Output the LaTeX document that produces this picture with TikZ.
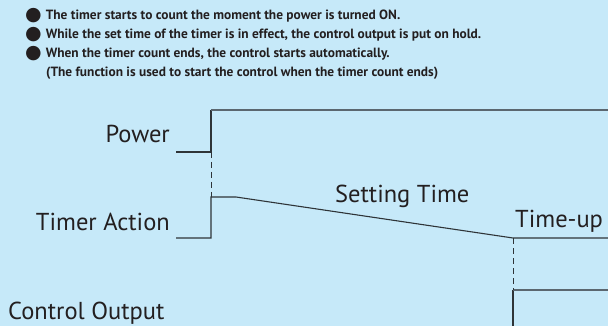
\documentclass[tikz,border=0pt]{standalone}
\usepackage{fontspec}
\setmainfont{PT Sans}
\newfontfamily\symfont{DejaVu Sans}
\definecolor{bg}{HTML}{C6E9F9}
\definecolor{ink}{HTML}{231F20}
\definecolor{wave}{HTML}{2E3438}
\definecolor{wavegray}{HTML}{5B6770}
\newcommand{\blt}{\raisebox{-1pt}{\symfont\fontsize{19}{20}\selectfont ●}\hspace{4pt}}
\begin{document}
\begin{tikzpicture}[x=1pt,y=-1pt,
  lbl/.style={font=\fontsize{24.5}{26}\selectfont, text=ink, inner sep=0pt},
  note/.style={font=\bfseries\fontsize{13.4}{16}\selectfont, text=ink, inner sep=0pt, anchor=base west},
  sig/.style={draw=wave, line width=1.1pt},
  sigg/.style={draw=wavegray, line width=1.5pt},
  guide/.style={draw=wave, line width=1pt, dash pattern=on 6pt off 4pt}]
\fill[bg] (0,0) rectangle (608,326);
\useasboundingbox (0,0) rectangle (608,326);
% notes
\node[note] (n1) at (25,20) {\blt The timer starts to count the moment the power is turned ON.};
\node[note] (n2) at (25,39) {\blt While the set time of the timer is in effect, the control output is put on hold.};
\node[note] (n3) at (25,58) {\blt When the timer count ends, the control starts automatically.};
\node[note] (n4) at (46,77) {(The function is used to start the control when the timer count ends)};
% labels
\node[lbl, anchor=base east] (power) at (170,143) {Power};
\node[lbl, anchor=base east] (timer) at (170,230) {Timer Action};
\node[lbl, anchor=base west] (set) at (335,202) {Setting Time};
\node[lbl, anchor=base west] (tup) at (515,227) {Time-up};
\node[lbl, anchor=base west] (ctrl) at (8,319) {Control Output};
% coordinates
\coordinate (p0) at (176,152);
\coordinate (p1) at (211,152);
\coordinate (p2) at (211,110);
\coordinate (p3) at (608,110);
\coordinate (t0) at (176,238);
\coordinate (t1) at (211,238);
\coordinate (t2) at (211,197);
\coordinate (t3) at (236,197);
\coordinate (t4) at (513,238);
\coordinate (t5) at (608,238);
\coordinate (c0) at (513,326);
\coordinate (c1) at (513,290);
\coordinate (c2) at (608,290);
% waves
\draw[sig] (p0) -- (p1) -- (p2);
\draw[sigg] (p2) -- (p3);
\draw[sig] (t0) -- (t1) -- (t2) -- (t3) -- (t4) -- (t5);
\draw[sig] (c0) -- (c1);
\draw[sigg] (c1) -- (c2);
\draw[guide] (p1) -- (t2);
\draw[guide] (t4) -- (c1);
\end{tikzpicture}
\end{document}
